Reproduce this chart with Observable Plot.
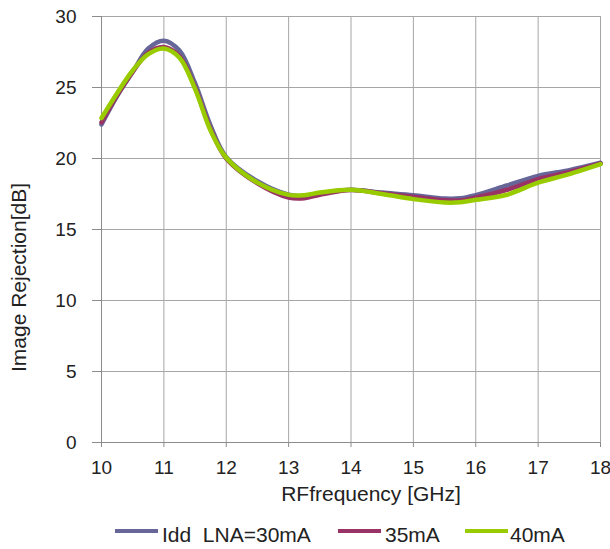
<!DOCTYPE html>
<html>
<head>
<meta charset="utf-8">
<script src="https://cdn.jsdelivr.net/npm/d3@7"></script>
<script src="https://cdn.jsdelivr.net/npm/@observablehq/plot@0.6"></script>
<style>
  html, body { margin: 0; padding: 0; background: #fff; }
  body { position: relative; width: 610px; height: 549px; overflow: hidden; font-family: "Liberation Sans", Arial, sans-serif; }
  #chart svg { display: block; }
  #legend { position: absolute; left: 0; top: 515px; width: 610px; height: 34px; font-size: 21px; color: #222; }
  .swatch { position: absolute; top: 14px; width: 43px; height: 4px; }
  .label { position: absolute; top: 9px; line-height: 1; white-space: pre; }
</style>
</head>
<body>
<div id="chart"></div>
<div id="legend"></div>
<script>
// RF frequency sweep (GHz)
const freq = [10, 10.25, 10.5, 10.75, 11, 11.25, 11.5, 11.75, 12, 12.5, 13, 13.25, 13.5, 14, 14.5, 15, 15.5, 15.75, 16, 16.5, 17, 17.5, 18];

// Image rejection (dB) for each LNA drain current
const ir30 = [22.4, 24.4, 26.1, 27.75, 28.3, 27.6, 25.3, 22.3, 20.1, 18.4, 17.45, 17.35, 17.55, 17.8, 17.6, 17.42, 17.18, 17.2, 17.42, 18.1, 18.78, 19.18, 19.7];
const ir35 = [22.55, 24.45, 26.1, 27.45, 27.85, 27.2, 25.0, 22.05, 20.0, 18.25, 17.25, 17.2, 17.45, 17.78, 17.55, 17.3, 17.06, 17.05, 17.25, 17.8, 18.55, 19.05, 19.65];
const ir40 = [22.85, 24.6, 26.2, 27.35, 27.75, 27.1, 24.9, 21.95, 20.05, 18.3, 17.44, 17.42, 17.6, 17.8, 17.5, 17.14, 16.9, 16.92, 17.09, 17.45, 18.3, 18.9, 19.6];

const seriesNames = ["Idd  LNA=30mA", "35mA", "40mA"];
const seriesColors = ["#666699", "#993366", "#99cc00"];
const xTicks = [10, 11, 12, 13, 14, 15, 16, 17, 18];
const yTicks = [0, 5, 10, 15, 20, 25, 30];

const rows = [ir30, ir35, ir40].flatMap((vals, s) =>
  vals.map((v, i) => ({series: seriesNames[s], f: freq[i], ir: v}))
);

const gridColor = "#a6a6a6";
const axisColor = "#8c8c8c";

const chart = Plot.plot({
  width: 610,
  height: 515,
  marginLeft: 101,
  marginRight: 10,
  marginTop: 16,
  marginBottom: 73,
  style: {fontFamily: "Liberation Sans, Arial, sans-serif", fontSize: "19px", color: "#222", background: "#fff"},
  x: {domain: [10, 18], ticks: xTicks, label: null},
  y: {domain: [0, 30], ticks: yTicks, label: null},
  color: {domain: seriesNames, range: seriesColors},
  marks: [
    Plot.gridX(xTicks, {stroke: gridColor, strokeOpacity: 1}),
    Plot.gridY(yTicks, {stroke: gridColor, strokeOpacity: 1}),
    Plot.ruleX([10], {stroke: axisColor, strokeWidth: 1}),
    Plot.ruleY([0], {stroke: axisColor, strokeWidth: 1}),
    Plot.axisX({ticks: xTicks, tickSize: 5, tickPadding: 13, stroke: axisColor, fill: "#222", fontSize: 19, label: null}),
    Plot.axisY({ticks: yTicks, tickSize: 9, tickPadding: 16, stroke: axisColor, fill: "#222", fontSize: 19, label: null}),
    Plot.line(rows, {x: "f", y: "ir", z: "series", stroke: "series", strokeWidth: 4.5, curve: "catmull-rom", strokeLinejoin: "round"}),
    Plot.text(["RFfrequency [GHz]"], {frameAnchor: "bottom", dx: 20, dy: 58, fontSize: 21, fill: "#222", text: d => d}),
    Plot.text(["Image Rejection[dB]"], {frameAnchor: "left", textAnchor: "middle", dx: -82, dy: 48, rotate: -90, fontSize: 21, fill: "#222", text: d => d})
  ]
});
document.getElementById("chart").appendChild(chart);

// Legend row beneath the chart: swatch left edge and label left edge per series
const swatchX = [115, 338, 465];
const labelX = [162, 385, 510];
const legend = document.getElementById("legend");
seriesNames.forEach((name, i) => {
  const sw = document.createElement("div");
  sw.className = "swatch";
  sw.style.left = swatchX[i] + "px";
  sw.style.background = seriesColors[i];
  legend.appendChild(sw);
  const lb = document.createElement("div");
  lb.className = "label";
  lb.style.left = labelX[i] + "px";
  lb.textContent = name;
  legend.appendChild(lb);
});
</script>
</body>
</html>
